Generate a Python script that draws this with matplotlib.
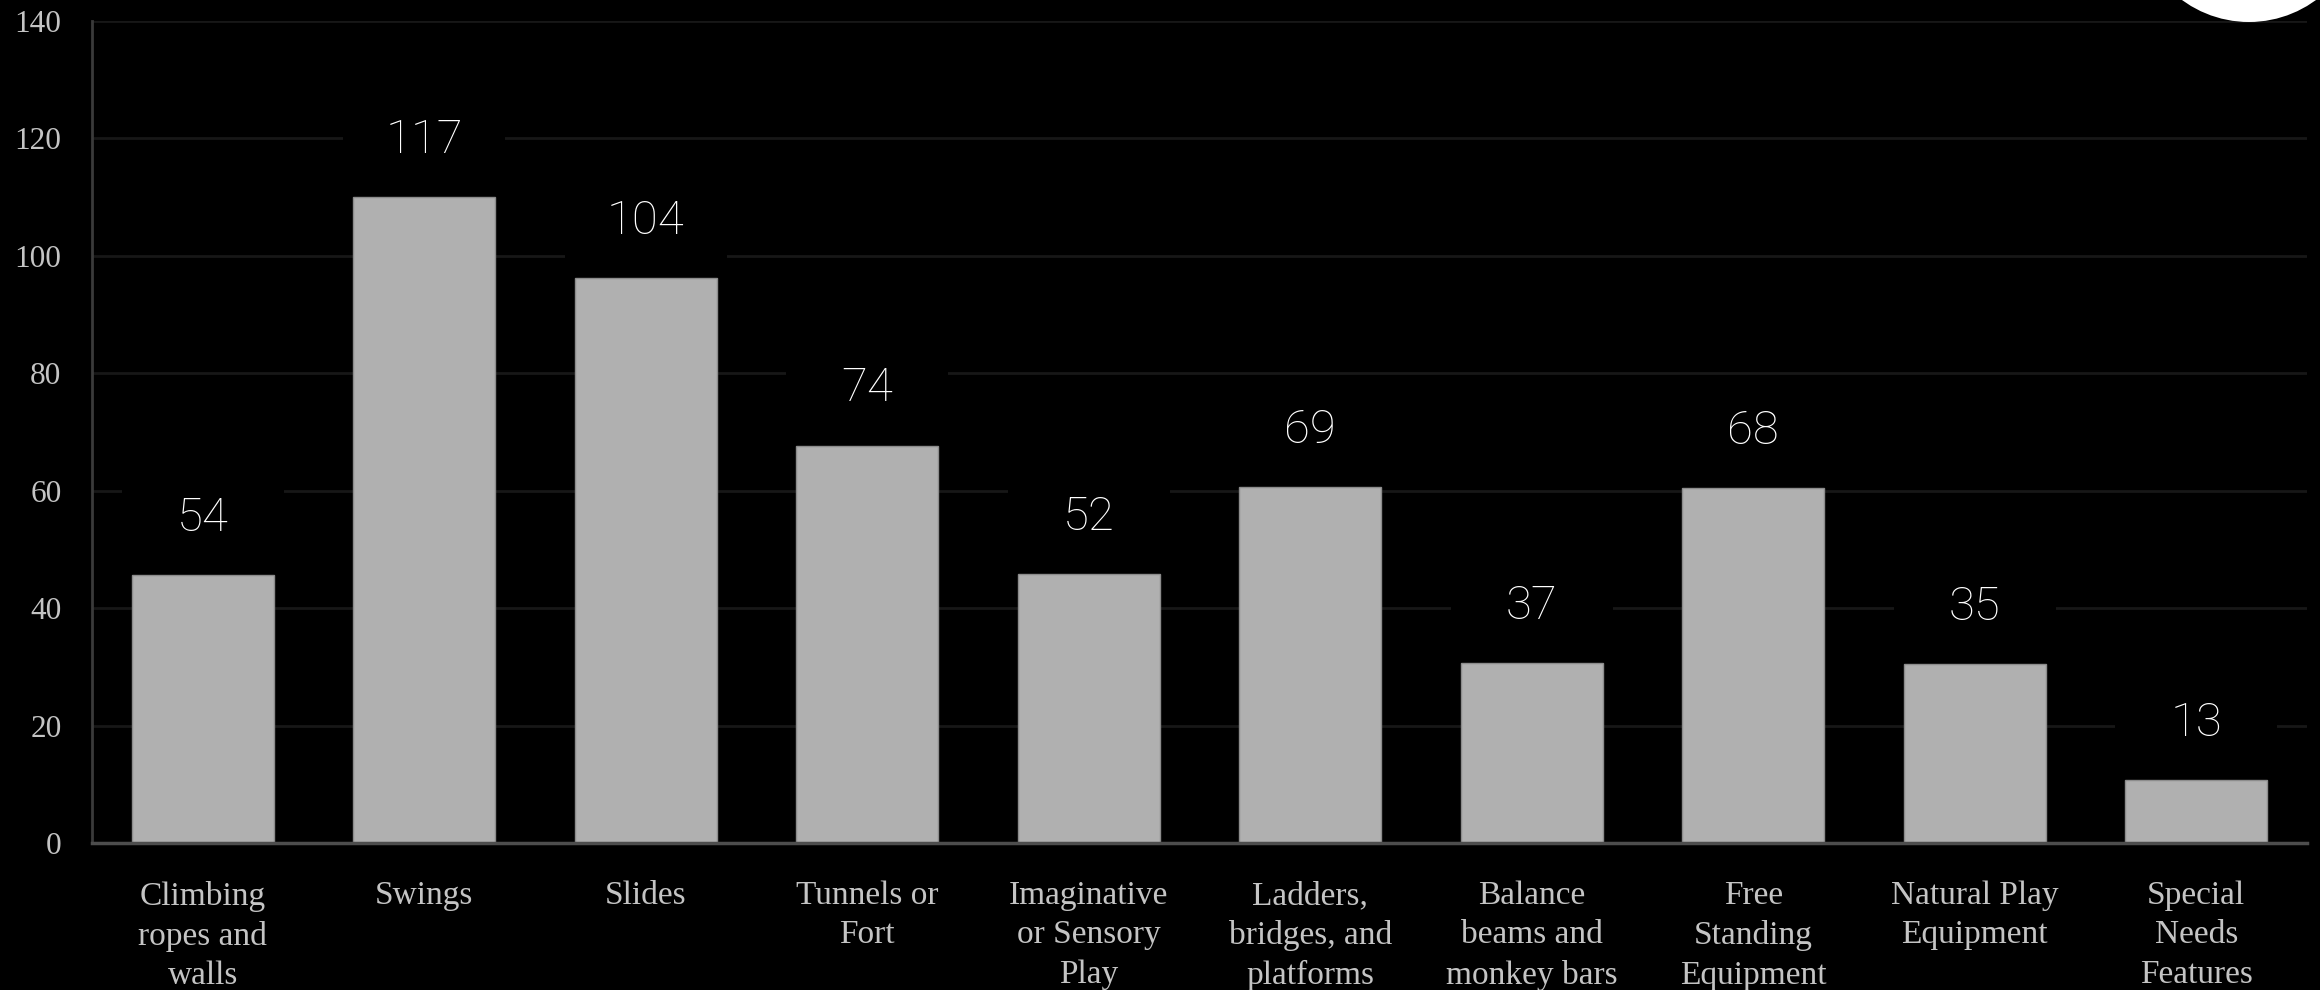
import matplotlib
matplotlib.use("Agg")
import matplotlib.pyplot as plt
from matplotlib.patches import Ellipse
import numpy as np

categories = [
    "Climbing\nropes and\nwalls", "Swings", "Slides", "Tunnels or\nFort",
    "Imaginative\nor Sensory\nPlay", "Ladders,\nbridges, and\nplatforms",
    "Balance\nbeams and\nmonkey bars", "Free\nStanding\nEquipment",
    "Natural Play\nEquipment", "Special\nNeeds\nFeatures",
]
bar_heights = [45.6, 110.0, 96.2, 67.7, 45.8, 60.7, 30.7, 60.4, 30.5, 10.8]
value_labels = ["54", "117", "104", "74", "52", "69", "37", "68", "35", "13"]
y_ticks = [0, 20, 40, 60, 80, 100, 120, 140]

W, H, DPI = 2320, 990, 100
fig = plt.figure(figsize=(W / DPI, H / DPI), dpi=DPI, facecolor="black")
ax = fig.add_axes([92 / W, 1 - 843 / H, (2307 - 92) / W, (843 - 21) / H])
ax.set_facecolor("black")

x = np.arange(len(categories))
ax.set_xlim(-0.5, len(categories) - 0.5)
ax.set_ylim(0, 140)

# gridlines
ax.set_yticks(y_ticks)
ax.yaxis.grid(True, color="#171717", linewidth=2, zorder=0)
ax.set_axisbelow(True)

# bars
ax.bar(x, bar_heights, width=0.64, color="#b0b0b0", edgecolor="#8c8c8c",
       linewidth=1, zorder=3)

# label backgrounds and value labels
label_center = np.array(bar_heights) + 10.3
box_half = 8.0
ax.bar(x, 2 * box_half, bottom=label_center - box_half, width=0.73,
       color="black", zorder=2)
for xi, yc, lab in zip(x, label_center, value_labels):
    ax.text(xi, yc - 2.8, lab, ha="center", va="baseline", color="white",
            fontsize=34, fontfamily="Roboto", fontweight="light", zorder=4)

# axes styling
for s in ["top", "right"]:
    ax.spines[s].set_visible(False)
ax.spines["left"].set_color("#3a3a3a")
ax.spines["left"].set_linewidth(2)
ax.spines["bottom"].set_color("#4d4d4d")
ax.spines["bottom"].set_linewidth(2.5)
ax.spines["bottom"].set_zorder(5)

ax.set_xticks(x)
ax.set_xticklabels(categories, fontsize=24, fontfamily="Liberation Serif",
                   color="#c4c4c4", linespacing=1.38)
ax.set_yticklabels([str(t) for t in y_ticks], fontsize=22.5,
                   fontfamily="Liberation Serif", color="#c4c4c4")
ax.tick_params(axis="x", length=0, pad=27)
ax.tick_params(axis="y", length=0, pad=22)

# decorative white circle at top right
circ = Ellipse((2249 / W, (H + 91) / H), 2 * 113 / W, 2 * 113 / H,
               transform=fig.transFigure, facecolor="white", edgecolor="none")
fig.patches.append(circ)

fig.savefig("out.png", dpi=DPI, facecolor="black")
